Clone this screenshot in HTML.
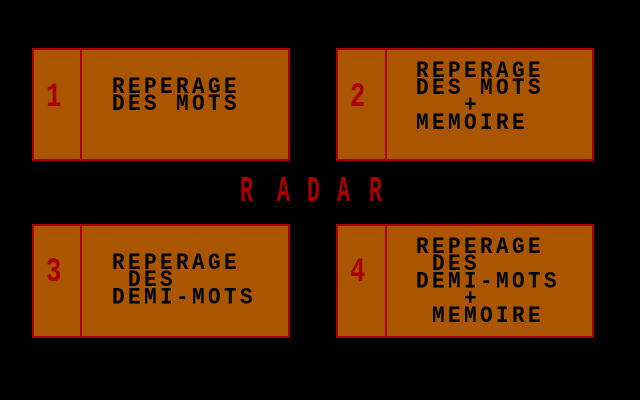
<!DOCTYPE html>
<html><head><meta charset="utf-8"><style>
html,body{margin:0;padding:0;background:#000;}
body{width:640px;height:400px;position:relative;overflow:hidden;}
.box{position:absolute;background:#aa5500;border:2px solid #aa0000;box-sizing:border-box;}
.div{position:absolute;top:0;bottom:0;width:2px;background:#aa0000;}
.num{position:absolute;color:#aa0000;font-family:"Liberation Mono",monospace;font-weight:bold;font-size:34px;line-height:34px;transform:scaleX(0.75);transform-origin:left top;}
.t{position:absolute;white-space:pre;font-family:"Liberation Mono",monospace;font-weight:bold;font-size:21px;letter-spacing:3.4px;line-height:16px;color:#000;transform:scaleY(1.08);transform-origin:left top;}
.r{position:absolute;top:174px;color:#aa0000;font-family:"Liberation Mono",monospace;font-weight:bold;font-size:36px;line-height:36px;transform:scaleX(0.6);transform-origin:left top;}
</style></head><body>
<div class="box" style="left:32px;top:48px;width:258px;height:113px"><div class="div" style="left:46px"></div></div>
<div class="box" style="left:336px;top:48px;width:258px;height:113px"><div class="div" style="left:47px"></div></div>
<div class="box" style="left:32px;top:224px;width:258px;height:114px"><div class="div" style="left:46px"></div></div>
<div class="box" style="left:336px;top:224px;width:258px;height:114px"><div class="div" style="left:47px"></div></div>

<div class="num" style="left:46px;top:81px">1</div>
<div class="num" style="left:350px;top:81px">2</div>
<div class="num" style="left:46px;top:256px">3</div>
<div class="num" style="left:350px;top:256px">4</div>

<div class="t" style="left:112px;top:80px">REPERAGE
DES MOTS</div>
<div class="t" style="left:416px;top:64px">REPERAGE
DES MOTS
   +
MEMOIRE</div>
<div class="t" style="left:112px;top:256px">REPERAGE
 DES
DEMI-MOTS</div>
<div class="t" style="left:416px;top:240px">REPERAGE
 DES
DEMI-MOTS
   +
 MEMOIRE</div>

<div class="r" style="left:240px">R</div>
<div class="r" style="left:277px">A</div>
<div class="r" style="left:307px">D</div>
<div class="r" style="left:337px">A</div>
<div class="r" style="left:369px">R</div>
</body></html>
